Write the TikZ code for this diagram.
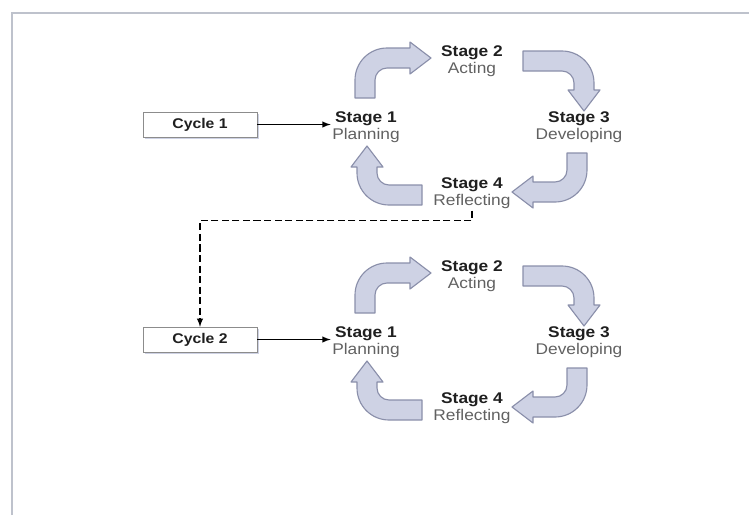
\documentclass[tikz,border=0pt]{standalone}
\usepackage{fontspec}
\setmainfont{Liberation Sans}[FakeStretch=1.12]
\usepackage{tikz}
\usetikzlibrary{arrows}
\usetikzlibrary{shadows}
\usetikzlibrary{positioning}
\definecolor{arrowfill}{RGB}{206,210,228}
\definecolor{arrowline}{RGB}{138,143,170}
\definecolor{framegray}{RGB}{190,194,204}
\newcommand\stagehead[1]{\textbf{\color{black!88}#1}}
% corner x, corner y, rotation, tail length, lead length
\newcommand\bentarrow[5]{%
  \draw[stagearrow, shift={(#1,#2)}, rotate=#3]
    (-10,#4) -- (-10,22) .. controls (-10,4.3) and (4.3,-10) .. (22,-10)
    -- (#5,-10) -- (#5,-16) -- ++(21,16) -- ++(-21,16) -- ++(0,-6)
    -- (22,10) .. controls (15.4,10) and (10,15.4) .. (10,22) -- (10,#4) -- cycle;}
\tikzstyle{cyclebox}=[rectangle,draw=black!45,fill=white,minimum width=2.85cm,minimum height=0.62cm,
  font=\bfseries,text=black!88,drop shadow={shadow xshift=1.2pt,shadow yshift=-1.2pt,fill=arrowfill,opacity=1}]
\tikzstyle{stage}=[align=center,inner sep=1pt,text=black!62]
\tikzstyle{stagearrow}=[draw=arrowline,fill=arrowfill,line width=0.8pt,line join=round]
\tikzstyle{link}=[->,>=latex,line width=1pt]
\begin{document}
\begin{tikzpicture}[x=0.025cm,y=-0.025cm,font=\fontsize{11}{12}\selectfont]
  \useasboundingbox (0,0) rectangle (749,515);
  \draw[framegray,line width=1.4pt] (12,515) -- (12,13) -- (749,13);

  \node[cyclebox] at (200,124.5) (cyc1) {Cycle 1};
  \node[stage] at (366,127.5) (plan1) {\stagehead{Stage 1}\\Planning};
  \node[stage] at (472,61.5) (act1) {\stagehead{Stage 2}\\Acting};
  \node[stage] at (579,127.5) (dev1) {\stagehead{Stage 3}\\Developing};
  \node[stage] at (472,193.5) (refl1) {\stagehead{Stage 4}\\Reflecting};
  \bentarrow{365}{58}{0}{40}{45}
  \bentarrow{584}{61}{-90}{61}{29}
  \bentarrow{577}{192}{180}{39}{44}
  \bentarrow{367}{195}{90}{55}{28}
  \draw[link] (cyc1.east) -- (cyc1.east -| plan1.west);

  \node[cyclebox] at (200,339.5) (cyc2) {Cycle 2};
  \node[stage] at (366,342.5) (plan2) {\stagehead{Stage 1}\\Planning};
  \node[stage] at (472,276.5) (act2) {\stagehead{Stage 2}\\Acting};
  \node[stage] at (579,342.5) (dev2) {\stagehead{Stage 3}\\Developing};
  \node[stage] at (472,408.5) (refl2) {\stagehead{Stage 4}\\Reflecting};
  \bentarrow{365}{273}{0}{40}{45}
  \bentarrow{584}{276}{-90}{61}{29}
  \bentarrow{577}{407}{180}{39}{44}
  \bentarrow{367}{410}{90}{55}{28}
  \draw[link] (cyc2.east) -- (cyc2.east -| plan2.west);

  \draw[link,dashed,dash pattern=on 5pt off 2.5pt] (refl1.south) -- ++(0,10) -| (cyc2.north);
\end{tikzpicture}
\end{document}
